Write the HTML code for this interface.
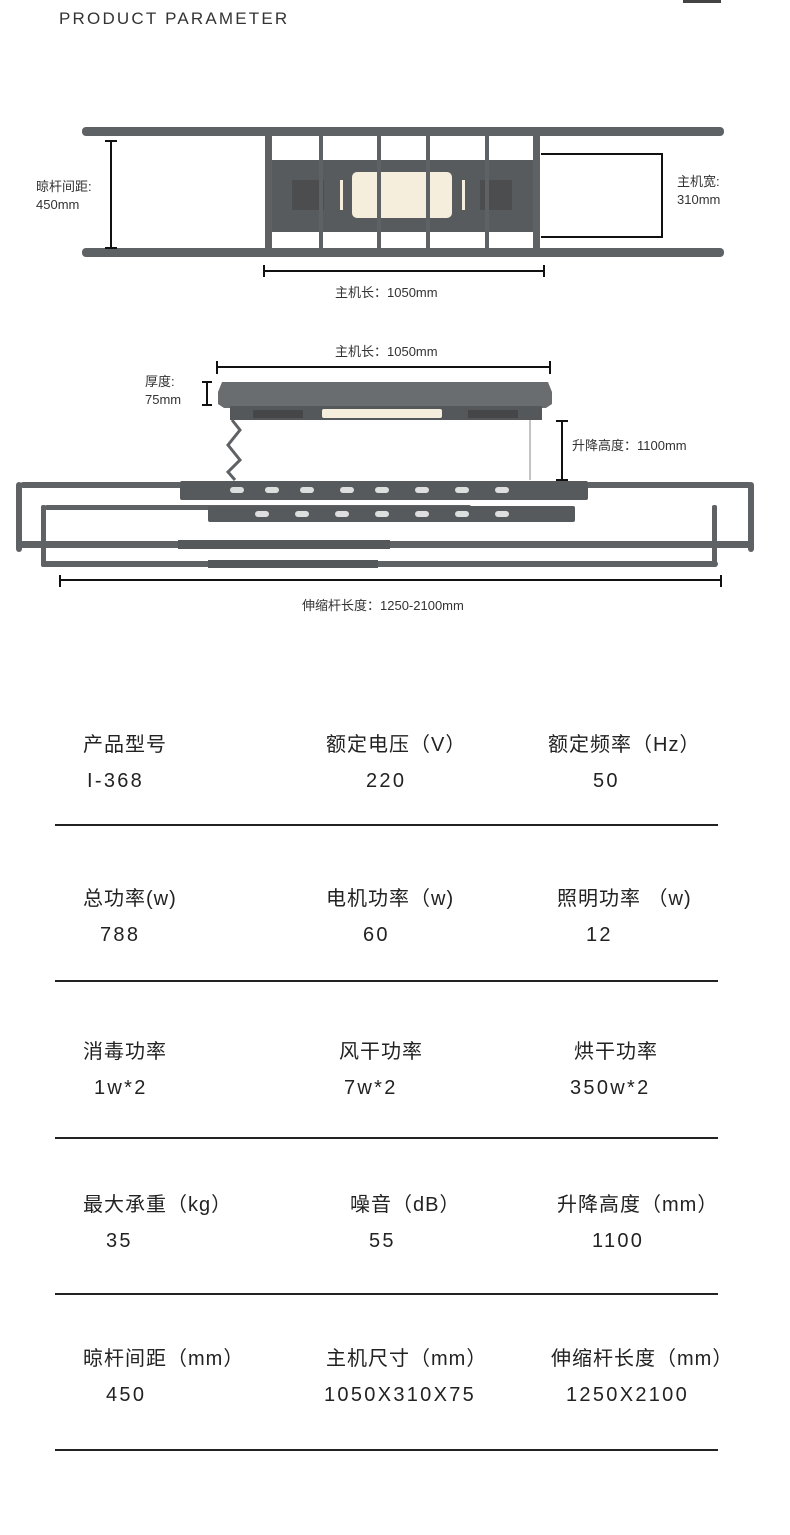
<!DOCTYPE html>
<html><head><meta charset="utf-8"><style>
body{margin:0;width:790px;height:1535px;background:#fff;position:relative;overflow:hidden;font-family:"Liberation Sans","Noto Sans CJK SC",sans-serif;color:#222}
.t{position:absolute;white-space:nowrap;font-size:20px;line-height:1;letter-spacing:1px}
.v{letter-spacing:2.3px}
.s{position:absolute;white-space:nowrap;font-size:13px;line-height:1.4;color:#333}
.hr{position:absolute;left:55px;width:663px;height:2px;background:#222}
</style></head><body>
<div style="position:absolute;left:683px;top:0;width:38px;height:3px;background:#444"></div>
<div class="t" style="left:59px;top:10px;font-size:17px;letter-spacing:2.2px;color:#333">PRODUCT PARAMETER</div>
<svg width="790" height="640" style="position:absolute;left:0;top:0">
<g fill="#5f6265" stroke="none">
<rect x="82" y="127" width="642" height="9" rx="4"/>
<rect x="82" y="248" width="642" height="9" rx="4"/>
<rect x="265" y="134" width="7" height="118"/>
<rect x="533" y="134" width="7" height="118"/>
<rect x="272" y="160" width="261" height="72" fill="#585b5e"/>
<rect x="352" y="172" width="100" height="46" rx="5" fill="#f5eedc"/>
<rect x="340" y="180" width="3" height="30" fill="#f5eedc"/>
<rect x="462" y="180" width="3" height="30" fill="#f5eedc"/>
<rect x="292" y="180" width="32" height="30" fill="#444" opacity=".6"/>
<rect x="480" y="180" width="32" height="30" fill="#444" opacity=".6"/>
<rect x="319" y="135" width="4" height="117"/>
<rect x="377" y="135" width="4" height="117"/>
<rect x="426" y="135" width="4" height="117"/>
<rect x="485" y="135" width="4" height="117"/>
<path d="M222 382 L548 382 L552 392 L552 404 L546 408 L224 408 L218 404 L218 392 Z" fill="#6a6d70"/>
<rect x="230" y="406" width="312" height="14" fill="#55585b"/>
<rect x="322" y="409" width="120" height="9" rx="2" fill="#f5eedc"/>
<rect x="253" y="410" width="50" height="8" fill="#333" opacity=".5"/>
<rect x="468" y="410" width="50" height="8" fill="#333" opacity=".5"/>
<path d="M232 420 L240 430 L228 445 L240 460 L228 472 L235 480" fill="none" stroke="#5f6265" stroke-width="3"/>
<line x1="530" y1="420" x2="530" y2="480" stroke="#888" stroke-width="1"/>
<rect x="20" y="482" width="732" height="6" rx="3"/>
<rect x="16" y="482" width="6" height="70" rx="3"/>
<rect x="748" y="482" width="6" height="70" rx="3"/>
<rect x="16" y="541" width="738" height="7" rx="3"/>
<rect x="178" y="540" width="212" height="9" fill="#55585b"/>
<rect x="45" y="505" width="426" height="5" rx="2"/>
<rect x="41" y="505" width="5" height="62" rx="2"/>
<rect x="712" y="505" width="5" height="62" rx="2"/>
<rect x="41" y="561" width="677" height="6" rx="3"/>
<rect x="208" y="560" width="170" height="8" fill="#55585b"/>
<rect x="180" y="481" width="408" height="19" rx="2" fill="#575a5d"/>
<rect x="208" y="506" width="367" height="16" rx="2" fill="#575a5d"/>
</g>
<g fill="#fff" opacity=".8">
<rect x="230" y="487" width="14" height="6" rx="3"/><rect x="265" y="487" width="14" height="6" rx="3"/><rect x="300" y="487" width="14" height="6" rx="3"/><rect x="340" y="487" width="14" height="6" rx="3"/><rect x="375" y="487" width="14" height="6" rx="3"/><rect x="415" y="487" width="14" height="6" rx="3"/><rect x="455" y="487" width="14" height="6" rx="3"/><rect x="495" y="487" width="14" height="6" rx="3"/>
<rect x="255" y="511" width="14" height="6" rx="3"/><rect x="295" y="511" width="14" height="6" rx="3"/><rect x="335" y="511" width="14" height="6" rx="3"/><rect x="375" y="511" width="14" height="6" rx="3"/><rect x="415" y="511" width="14" height="6" rx="3"/><rect x="455" y="511" width="14" height="6" rx="3"/><rect x="495" y="511" width="14" height="6" rx="3"/>
</g>
<g stroke="#111" stroke-width="2" fill="none">
<line x1="111" y1="141" x2="111" y2="248"/><line x1="105" y1="141" x2="117" y2="141"/><line x1="105" y1="248" x2="117" y2="248"/>
<polyline points="541,154 662,154 662,237 541,237"/>
<line x1="264" y1="271" x2="544" y2="271"/><line x1="264" y1="265" x2="264" y2="277"/><line x1="544" y1="265" x2="544" y2="277"/>
<line x1="217" y1="367" x2="550" y2="367"/><line x1="217" y1="361" x2="217" y2="374"/><line x1="550" y1="361" x2="550" y2="374"/>
<line x1="207" y1="382" x2="207" y2="405"/><line x1="202" y1="382" x2="212" y2="382"/><line x1="202" y1="405" x2="212" y2="405"/>
<line x1="562" y1="421" x2="562" y2="480"/><line x1="556" y1="421" x2="568" y2="421"/><line x1="556" y1="480" x2="568" y2="480"/>
<line x1="60" y1="580" x2="721" y2="580"/><line x1="60" y1="575" x2="60" y2="587"/><line x1="721" y1="575" x2="721" y2="587"/>
</g>
</svg>
<div class="s" style="left:36px;top:178px">晾杆间距:<br>450mm</div>
<div class="s" style="left:677px;top:173px">主机宽:<br>310mm</div>
<div class="s" style="left:335px;top:284px">主机长：1050mm</div>
<div class="s" style="left:335px;top:343px">主机长：1050mm</div>
<div class="s" style="left:145px;top:373px">厚度:<br>75mm</div>
<div class="s" style="left:572px;top:437px">升降高度：1100mm</div>
<div class="s" style="left:302px;top:597px">伸缩杆长度：1250-2100mm</div>

<div class="t" style="left:83px;top:735px">产品型号</div><div class="t v" style="left:87px;top:771px">I-368</div>
<div class="t" style="left:326px;top:735px">额定电压（V）</div><div class="t v" style="left:366px;top:771px">220</div>
<div class="t" style="left:548px;top:735px">额定频率（Hz）</div><div class="t v" style="left:593px;top:771px">50</div>
<div class="hr" style="top:824px"></div>
<div class="t" style="left:83px;top:889px">总功率(w)</div><div class="t v" style="left:100px;top:925px">788</div>
<div class="t" style="left:326px;top:889px">电机功率（w)</div><div class="t v" style="left:363px;top:925px">60</div>
<div class="t" style="left:557px;top:889px">照明功率 （w)</div><div class="t v" style="left:586px;top:925px">12</div>
<div class="hr" style="top:980px"></div>
<div class="t" style="left:83px;top:1042px">消毒功率</div><div class="t v" style="left:94px;top:1078px">1w*2</div>
<div class="t" style="left:339px;top:1042px">风干功率</div><div class="t v" style="left:344px;top:1078px">7w*2</div>
<div class="t" style="left:574px;top:1042px">烘干功率</div><div class="t v" style="left:570px;top:1078px">350w*2</div>
<div class="hr" style="top:1137px"></div>
<div class="t" style="left:83px;top:1195px">最大承重（kg）</div><div class="t v" style="left:106px;top:1231px">35</div>
<div class="t" style="left:350px;top:1195px">噪音（dB）</div><div class="t v" style="left:369px;top:1231px">55</div>
<div class="t" style="left:557px;top:1195px">升降高度（mm）</div><div class="t v" style="left:592px;top:1231px">1100</div>
<div class="hr" style="top:1293px"></div>
<div class="t" style="left:83px;top:1349px">晾杆间距（mm）</div><div class="t v" style="left:106px;top:1385px">450</div>
<div class="t" style="left:326px;top:1349px">主机尺寸（mm）</div><div class="t v" style="left:324px;top:1385px">1050X310X75</div>
<div class="t" style="left:551px;top:1349px">伸缩杆长度（mm）</div><div class="t v" style="left:566px;top:1385px">1250X2100</div>
<div class="hr" style="top:1449px"></div>
</body></html>
